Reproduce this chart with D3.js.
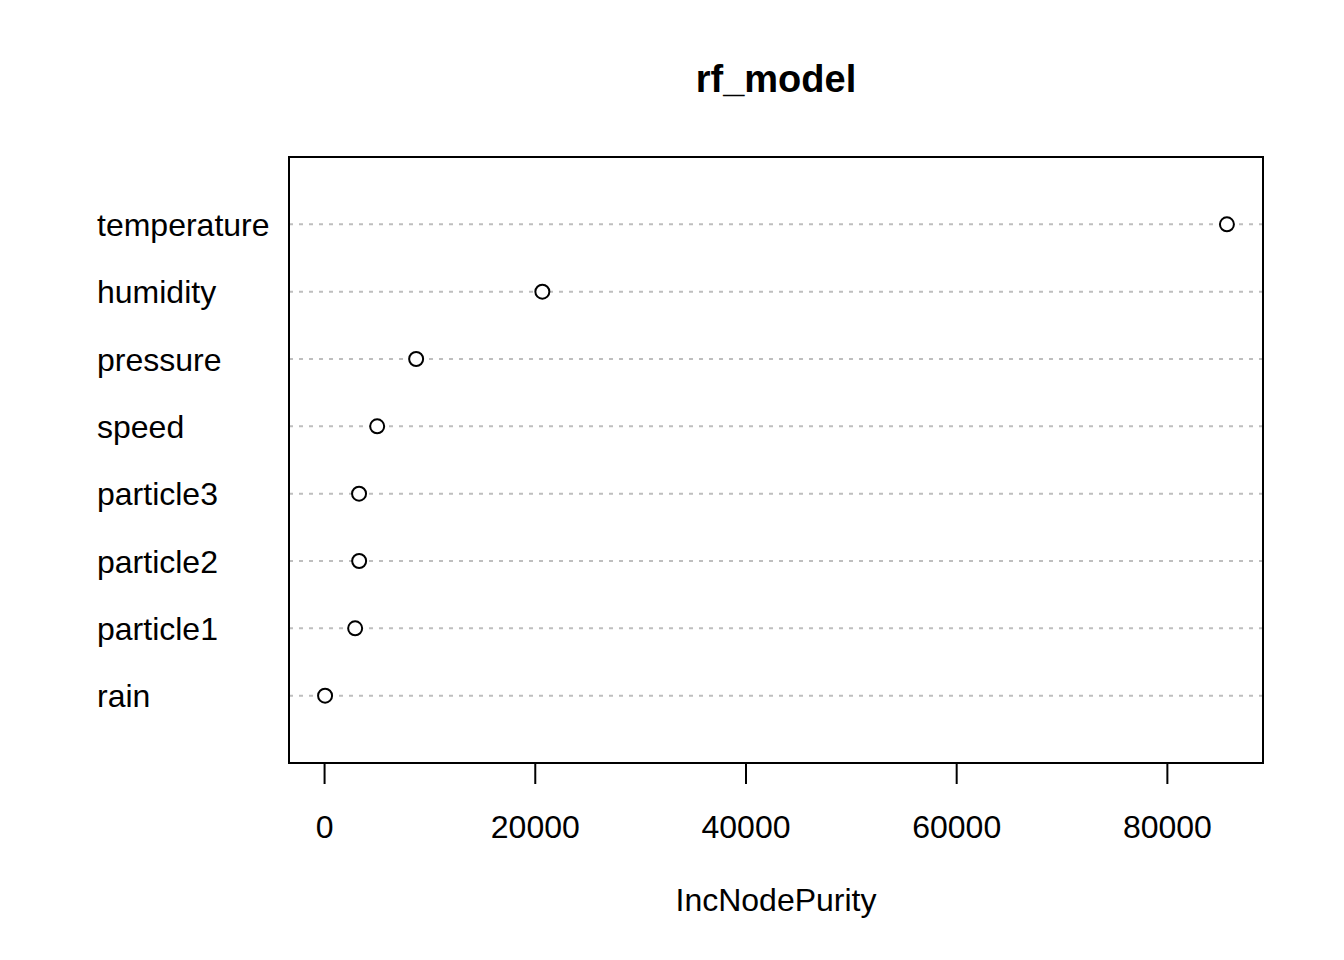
<!DOCTYPE html>
<html>
<head>
<meta charset="utf-8">
<script src="https://cdn.jsdelivr.net/npm/d3@7"></script>
<style>
  body { margin: 0; background: #fff; }
  svg { display: block; font-family: "Liberation Sans", Arial, sans-serif; }
</style>
</head>
<body>
<div id="chart"></div>
<script>
// variable names, bottom to top as in the dotchart
const variables = ["rain", "particle1", "particle2", "particle3", "speed", "pressure", "humidity", "temperature"];
const purity = [95, 2950, 3330, 3320, 5040, 8740, 20720, 85700];
const xTicks = [0, 20000, 40000, 60000, 80000];

const width = 1344, height = 960;
const box = { left: 289, right: 1263, top: 157, bottom: 763 };

const svg = d3.select("#chart").append("svg")
    .attr("width", width)
    .attr("height", height);

// R style range: data range stretched by 4% on each side
const [lo, hi] = d3.extent(purity);
const pad = (hi - lo) * 0.04;
const x = d3.scaleLinear()
    .domain([lo - pad, hi + pad])
    .range([box.left, box.right]);

const y = d3.scaleLinear()
    .domain([0, variables.length + 1])
    .range([box.bottom, box.top]);

const data = variables.map((v, i) => ({ name: v, value: purity[i], pos: i + 1 }));

// dotted guide lines
svg.append("g")
    .selectAll("line")
    .data(data)
    .join("line")
    .attr("x1", box.left)
    .attr("x2", box.right)
    .attr("y1", d => y(d.pos))
    .attr("y2", d => y(d.pos))
    .attr("stroke", "#bebebe")
    .attr("stroke-width", 2)
    .attr("stroke-dasharray", "4,6");

// points
svg.append("g")
    .selectAll("circle")
    .data(data)
    .join("circle")
    .attr("cx", d => x(d.value))
    .attr("cy", d => y(d.pos))
    .attr("r", 7)
    .attr("fill", "#fff")
    .attr("stroke", "#000")
    .attr("stroke-width", 2);

// plot frame
svg.append("rect")
    .attr("x", box.left)
    .attr("y", box.top)
    .attr("width", box.right - box.left)
    .attr("height", box.bottom - box.top)
    .attr("fill", "none")
    .attr("stroke", "#000")
    .attr("stroke-width", 2);

// x axis
const xAxis = svg.append("g")
    .attr("transform", `translate(0, ${box.bottom})`)
    .call(d3.axisBottom(x).tickValues(xTicks).tickFormat(d3.format("d")).tickSize(21).tickPadding(31));

xAxis.select(".domain").remove();
xAxis.selectAll(".tick line").attr("stroke", "#000").attr("stroke-width", 2);
xAxis.selectAll(".tick text")
    .attr("fill", "#000")
    .style("font-size", "32px")
    .style("font-family", "'Liberation Sans', Arial, sans-serif");

// variable labels
svg.append("g")
    .selectAll("text")
    .data(data)
    .join("text")
    .attr("x", 97)
    .attr("y", d => y(d.pos))
    .attr("dy", "0.36em")
    .style("font-size", "32px")
    .text(d => d.name);

// titles
svg.append("text")
    .attr("x", (box.left + box.right) / 2)
    .attr("y", 92)
    .attr("text-anchor", "middle")
    .style("font-size", "38px")
    .style("font-weight", "bold")
    .text("rf_model");

svg.append("text")
    .attr("x", (box.left + box.right) / 2)
    .attr("y", 911)
    .attr("text-anchor", "middle")
    .style("font-size", "32px")
    .text("IncNodePurity");
</script>
</body>
</html>
